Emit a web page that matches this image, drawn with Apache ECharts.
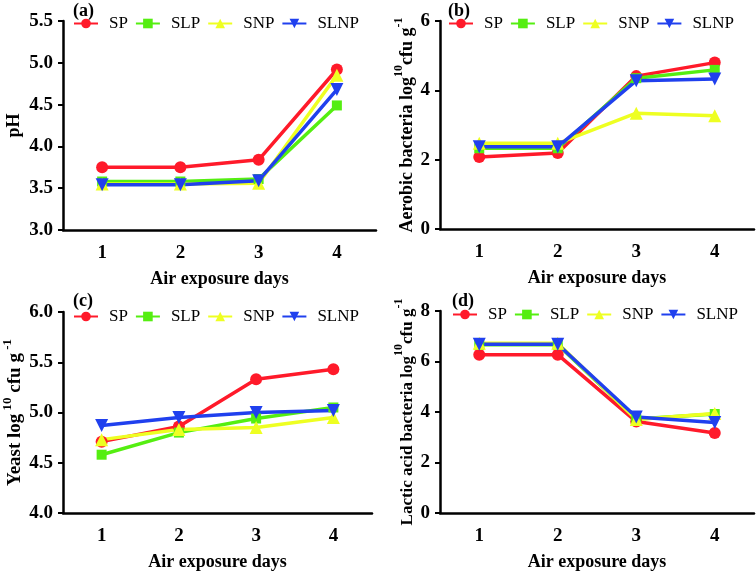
<!DOCTYPE html>
<html><head><meta charset="utf-8">
<script src="https://cdn.jsdelivr.net/npm/echarts@6/dist/echarts.min.js"></script>
<style>html,body{margin:0;padding:0;background:#fff}#c{width:756px;height:572px}</style>
</head><body><div id="c"></div>
<script>
const days = ['1','2','3','4'];
const seriesNames = ['SP','SLP','SNP','SLNP'];
// (a) pH
const phSP = [3.75,3.75,3.84,4.92];
const phSLP = [3.58,3.58,3.61,4.49];
const phSNP = [3.55,3.55,3.56,4.85];
const phSLNP = [3.54,3.54,3.59,4.68];
// (b) Aerobic bacteria
const aeSP = [2.08,2.19,4.41,4.80];
const aeSLP = [2.33,2.33,4.35,4.59];
const aeSNP = [2.47,2.47,3.34,3.27];
const aeSLNP = [2.37,2.37,4.28,4.33];
// (c) Yeast
const yeSP = [4.71,4.86,5.33,5.43];
const yeSLP = [4.58,4.80,4.94,5.05];
const yeSNP = [4.73,4.83,4.85,4.95];
const yeSLNP = [4.87,4.95,5.00,5.02];
// (d) Lactic acid bacteria
const laSP = [6.27,6.27,3.62,3.17];
const laSLP = [6.66,6.66,3.72,3.92];
const laSNP = [6.72,6.72,3.70,3.94];
const laSLNP = [6.68,6.68,3.80,3.58];

const panels = [
  {label:'(a)', name:'{m|pH}', min:3.0, max:5.5, interval:0.5, dec:1, data:[phSP,phSLP,phSNP,phSLNP]},
  {label:'(b)', name:'{m|Aerobic bacteria log}{s|10}{m|cfu g}{s|-1}', min:0, max:6, interval:2, dec:0, data:[aeSP,aeSLP,aeSNP,aeSLNP]},
  {label:'(c)', name:'{m|Yeast log}{s| 10}{m| cfu g}{s| -1}', min:4.0, max:6.0, interval:0.5, dec:1, data:[yeSP,yeSLP,yeSNP,yeSLNP]},
  {label:'(d)', name:'{m|Lactic acid bacteria log}{s|10}{m|cfu g}{s|-1}', min:0, max:8, interval:2, dec:0, data:[laSP,laSLP,laSNP,laSLNP]}
];

const colors = ['#ff1a2a','#55ee11','#eeff22','#2040ee'];
const symbols = ['circle','rect','triangle','triangle'];
const symRot = [0,0,0,180];
const symSize = [12,10,13,13];

const grids = [
  {left:63, top:21, width:313, height:209},
  {left:440, top:21, width:314, height:208},
  {left:59, top:312, width:313, height:207},
  {left:440, top:311, width:314, height:208}
];
const nameGaps = [40, 20, 38, 21];
const nameSizes = [18, 18, 19, 17];
const supSizes = [12, 12, 13, 12];
const legendPos = [{left:73, top:15},{left:448, top:15},{left:73, top:308},{left:452, top:306}];
const labelPos = [{x:73,y:2},{x:448,y:2},{x:73,y:292},{x:452,y:292}];

const serif = '"Liberation Serif","Times New Roman",serif';
const option = {
  animation:false,
  backgroundColor:'#fff',
  grid: grids.map(g=>Object.assign({containLabel:false}, g)),
  xAxis: panels.map((p,i)=>({
    type:'category', gridIndex:i, data:days, boundaryGap:true,
    name:'Air exposure days', nameLocation:'middle', nameGap:40,
    nameTextStyle:{fontFamily:serif, fontWeight:'bold', fontSize:18, color:'#000'},
    axisLine:{lineStyle:{color:'#000', width:2.5}},
    axisTick:{alignWithLabel:true, length:5, lineStyle:{color:'#000', width:2}},
    axisLabel:{fontFamily:serif, fontWeight:'bold', fontSize:19, color:'#000', margin:14},
    splitLine:{show:false}
  })),
  yAxis: panels.map((p,i)=>({
    type:'value', gridIndex:i, min:p.min, max:p.max, interval:p.interval,
    name:p.name, nameLocation:'middle', nameGap:nameGaps[i], nameRotate:90,
    nameTextStyle:{fontFamily:serif, fontWeight:'bold', fontSize:nameSizes[i], color:'#000',
      rich:{
        m:{fontFamily:serif, fontWeight:'bold', fontSize:nameSizes[i], color:'#000', lineHeight:24, verticalAlign:'bottom'},
        s:{fontFamily:serif, fontWeight:'bold', fontSize:supSizes[i], color:'#000', lineHeight:24, verticalAlign:'top'}
      }},
    axisLine:{show:true, lineStyle:{color:'#000', width:2.5}},
    axisTick:{show:true, length:5, lineStyle:{color:'#000', width:2}},
    axisLabel:{fontFamily:serif, fontWeight:'bold', fontSize:19, color:'#000', margin:10,
      formatter:v=>v.toFixed(p.dec)},
    splitLine:{show:false}
  })),
  legend: legendPos.map((lp,i)=>({
    left:lp.left, top:lp.top, orient:'horizontal', data:seriesNames, padding:0,
    itemWidth:24, itemHeight:12, itemGap:7,
    textStyle:{fontFamily:serif, fontSize:17, color:'#000', padding:[0,0,0,6]}
  })),
  graphic: panels.map((p,i)=>({
    type:'text', left:labelPos[i].x, top:labelPos[i].y,
    style:{text:p.label, font:'bold 18px '+serif, fill:'#000'}
  })),
  series: []
};
panels.forEach((p,i)=>{
  p.data.forEach((d,k)=>{
    option.series.push({
      type:'line', name:seriesNames[k], xAxisIndex:i, yAxisIndex:i, data:d,
      symbol:symbols[k], symbolRotate:symRot[k], symbolSize:symSize[k],
      lineStyle:{color:colors[k], width:3.5},
      itemStyle:{color:colors[k], borderWidth:0},
      z: 2
    });
  });
});
const chart = echarts.init(document.getElementById('c'), null, {renderer:'canvas'});
chart.setOption(option);
</script>
</body></html>
